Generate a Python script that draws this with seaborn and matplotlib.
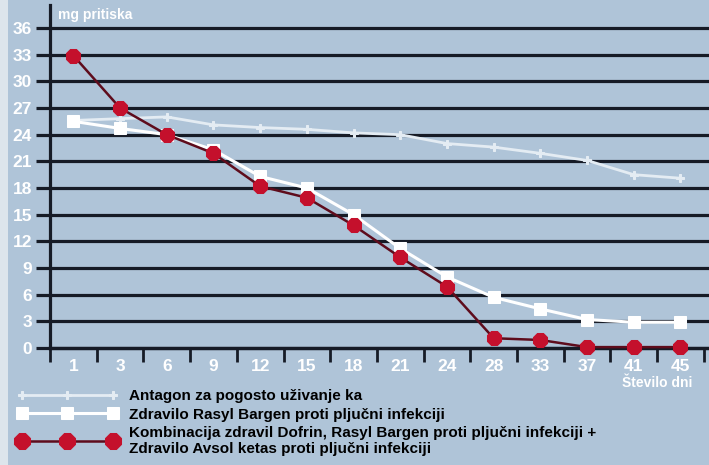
import numpy as np
import pandas as pd
import matplotlib
matplotlib.use("Agg")
import matplotlib.pyplot as plt
import seaborn as sns

# ---- data ----
days = ["1", "3", "6", "9", "12", "15", "18", "21", "24", "28", "33", "37", "41", "45"]
series_a = [25.6, 25.8, 26.0, 25.1, 24.8, 24.6, 24.2, 24.0, 23.0, 22.6, 21.9, 21.1, 19.5, 19.1]
series_b = [25.5, 24.7, 24.0, 22.3, 19.3, 18.0, 15.0, 11.2, 8.0, 5.7, 4.4, 3.2, 2.9, 2.9]
series_c = [32.9, 27.0, 24.0, 21.9, 18.2, 16.9, 13.8, 10.2, 6.9, 1.1, 0.9, 0.1, 0.1, 0.1]
labels = [
    "Antagon za pogosto uživanje ka",
    "Zdravilo Rasyl Bargen proti pljučni infekciji",
    "Kombinacija zdravil Dofrin, Rasyl Bargen proti pljučni infekciji +\nZdravilo Avsol ketas proti pljučni infekciji",
]
yticks = [0, 3, 6, 9, 12, 15, 18, 21, 24, 27, 30, 33, 36]
ylabel = "mg pritiska"
xlabel = "Število dni"
title = "Hitrost okrevanja pri terapiji z zdravili v prvih dneh zdravljenja"

BG = "#afc4d8"
GRID = "#161b26"
font = ["Liberation Sans", "DejaVu Sans"]

sns.set_theme(style="white")
plt.rcParams["font.family"] = font

W, H = 709, 465
fig = plt.figure(figsize=(W / 100, H / 100), dpi=100, facecolor=BG)
ax = fig.add_axes([50 / W, 1 - 348 / H, 1 - 50 / W, (348 - 5) / H])
ax.set_facecolor(BG)

pos = np.arange(len(days))
df = pd.DataFrame({"pos": pos, "a": series_a, "b": series_b, "c": series_c})

sns.lineplot(data=df, x="pos", y="a", ax=ax, color="#e4ecf3", linewidth=2,
             marker="P", markersize=5.5, markeredgecolor="#e4ecf3", clip_on=False, zorder=3)
sns.lineplot(data=df, x="pos", y="b", ax=ax, color="white", linewidth=2.2,
             marker="s", markersize=8, markeredgecolor="white", clip_on=False, zorder=4)
sns.lineplot(data=df, x="pos", y="c", ax=ax, color="#5e0c1c", linewidth=1.8,
             marker="8", markersize=10.5, markerfacecolor="#c4102c", markeredgecolor="#c4102c",
             clip_on=False, zorder=5)
lines = ax.get_lines()

ax.set_xlim(-0.5, -0.5 + (W - 50) / 46.7)
ax.set_ylim(0, (348 - 5) / 8.889)

# y grid lines and ticks
ax.set_yticks(yticks)
ax.set_yticklabels([str(v) for v in yticks])
for v in yticks[1:]:
    ax.axhline(v, color=GRID, linewidth=2.3, zorder=1)
ax.tick_params(axis="y", length=10, width=2.3, color=GRID, pad=3,
               labelcolor="white", labelsize=12.5, left=True)

# x ticks: labels at centres, tick marks at boundaries
ax.set_xticks(pos)
ax.set_xticklabels(days)
ax.set_xticks(np.arange(len(days) + 1) - 0.5, minor=True)
ax.tick_params(axis="x", which="major", length=0, pad=8, labelcolor="white", labelsize=12.5)
ax.tick_params(axis="x", which="minor", length=10, width=2, color=GRID, bottom=True)
for lab in ax.get_xticklabels() + ax.get_yticklabels():
    lab.set_fontweight("bold")

for s in ["top", "right"]:
    ax.spines[s].set_visible(False)
ax.spines["left"].set_color(GRID)
ax.spines["left"].set_linewidth(2.3)
ax.spines["bottom"].set_color(GRID)
ax.spines["bottom"].set_linewidth(2.5)
ax.set_xlabel("")
ax.set_ylabel("")

fig.text(58 / W, 1 - 15 / H, ylabel, color="white", fontsize=10, fontweight="bold",
         ha="left", va="center")
fig.text(692 / W, 1 - 383 / H, xlabel, color="white", fontsize=10, fontweight="bold",
         ha="right", va="center")

# partially visible title at top
fig.text(0.5, 1 + 14 / H, title, color="#1d4a5a", fontsize=22, fontweight="bold",
         ha="center", va="baseline")

# light strip at left edge
fig.patches.append(plt.Rectangle((0, 0), 8 / W, 1, transform=fig.transFigure,
                                 facecolor="#dde5ec", edgecolor="none", zorder=0))

leg = fig.legend(lines[:3], labels, loc="upper left",
                 bbox_to_anchor=(14 / W, 1 - 386 / H), frameon=False, numpoints=3,
                 handlelength=6.6, handletextpad=0.7, labelspacing=0.3,
                 borderaxespad=0, borderpad=0.2,
                 prop={"family": font, "weight": "bold", "size": 11})
for t in leg.get_texts():
    t.set_color("black")
for h in leg.legend_handles:
    if h.get_marker() == "8":
        h.set_markersize(12)

fig.savefig("out.png", dpi=100, facecolor=BG)
